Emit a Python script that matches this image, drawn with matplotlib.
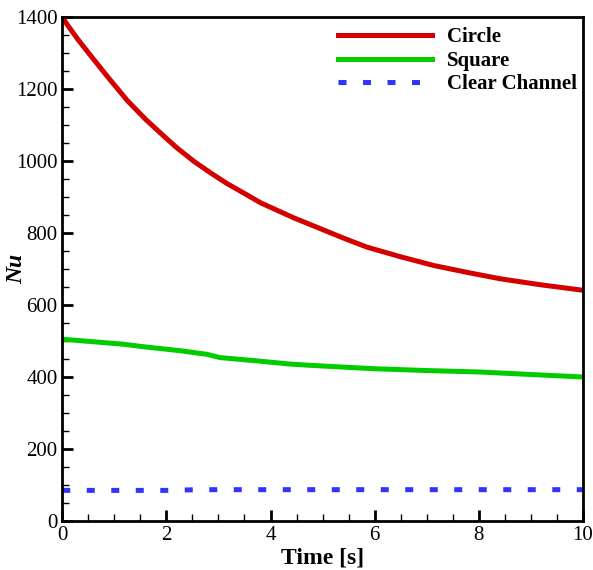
import matplotlib.pyplot as plt
from matplotlib.ticker import MultipleLocator

plt.rcParams['font.family'] = ['Liberation Serif', 'DejaVu Serif']

# values
t_circle = [0, 0.1, 0.3, 0.6, 0.9, 1.25, 1.6, 1.9, 2.2, 2.53, 2.85, 3.17, 3.5, 3.81,
            4.13, 4.45, 4.96, 5.4, 5.85, 6.5, 7.13, 7.8, 8.41, 9.2, 10]
nu_circle = [1400, 1378, 1338, 1283, 1229, 1168, 1116, 1076, 1037, 999, 967, 937, 910, 884,
             863, 842, 812, 786, 761, 734, 710, 690, 673, 656, 641]

t_square = [0, 0.6, 1.18, 1.57, 2.27, 2.78, 3.03, 3.73, 4.37, 4.82, 5.33, 6, 7, 8, 9, 10]
nu_square = [505, 498, 491, 484, 473, 463, 454, 445, 436, 432, 428, 423, 418, 414, 407, 400]

t_clear = [0, 1, 2, 2.3, 2.6, 4, 6, 8, 10]
nu_clear = [85, 85, 85, 86, 87, 87, 87, 87, 87]

fig, ax = plt.subplots(figsize=(5.93, 5.70), dpi=100)
fig.subplots_adjust(left=0.105, right=0.983, top=0.97, bottom=0.086)

ax.plot(t_circle, nu_circle, color='#d40000', lw=3.6, label='Circle')
ax.plot(t_square, nu_square, color='#00cc00', lw=3.6, label='Square')
ax.plot(t_clear, nu_clear, color='#3333ff', lw=3.6, dashes=(1.6, 3.3), label='Clear Channel')

ax.set_xlim(0, 10)
ax.set_ylim(0, 1400)
ax.xaxis.set_major_locator(MultipleLocator(2))
ax.xaxis.set_minor_locator(MultipleLocator(0.5))
ax.yaxis.set_major_locator(MultipleLocator(200))
ax.yaxis.set_minor_locator(MultipleLocator(50))
ax.tick_params(which='both', direction='in', top=False, right=False, labelsize=15)
ax.tick_params(which='major', length=8, width=2)
ax.tick_params(which='minor', length=5, width=1)
for s in ax.spines.values():
    s.set_linewidth(2)

ax.set_xlabel('Time [s]', fontsize=17, fontweight='bold', labelpad=2)
ax.set_ylabel('Nu', fontsize=17, fontweight='bold', style='italic')
ax.yaxis.set_label_coords(-0.067, 0.5)

ax.legend(loc='upper right', bbox_to_anchor=(1.0, 0.992), frameon=False,
          prop={'weight': 'bold', 'size': 15},
          handlelength=4.5, handletextpad=0.7, labelspacing=0.17,
          borderaxespad=0, borderpad=0.3)

fig.savefig('out.png')
